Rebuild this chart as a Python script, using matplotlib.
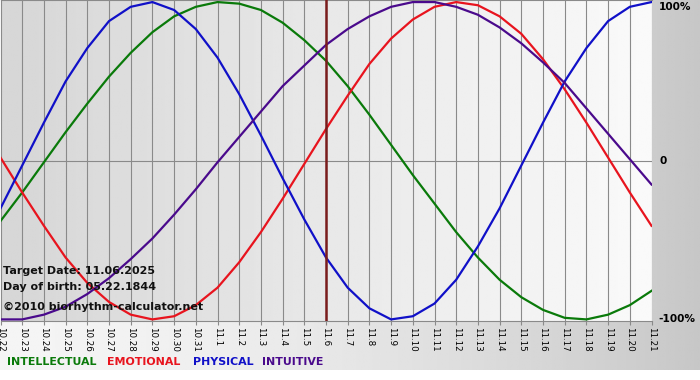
import matplotlib
matplotlib.use('Agg')
import matplotlib.pyplot as plt
import numpy as np

# days shown on the x axis (month.day)
day_labels = ['10.22', '10.23', '10.24', '10.25', '10.26', '10.27', '10.28',
              '10.29', '10.30', '10.31', '11.1', '11.2', '11.3', '11.4',
              '11.5', '11.6', '11.7', '11.8', '11.9', '11.10', '11.11',
              '11.12', '11.13', '11.14', '11.15', '11.16', '11.17', '11.18',
              '11.19', '11.20', '11.21']
target_label = '11.6'

# cycle values, one per day (-1 .. 1)
intellectual = [-0.38, -0.20, -0.01, 0.18, 0.36, 0.53, 0.68, 0.81, 0.91, 0.97,
                1.00, 0.99, 0.95, 0.87, 0.76, 0.63, 0.47, 0.29, 0.10, -0.09,
                -0.27, -0.45, -0.61, -0.75, -0.86, -0.94, -0.99, -1.00, -0.97,
                -0.91, -0.82]
emotional = [0.02, -0.20, -0.41, -0.61, -0.77, -0.89, -0.97, -1.00, -0.98,
             -0.91, -0.80, -0.64, -0.45, -0.24, -0.02, 0.20, 0.41, 0.61, 0.77,
             0.89, 0.97, 1.00, 0.98, 0.91, 0.80, 0.64, 0.45, 0.24, 0.02,
             -0.20, -0.41]
physical = [-0.30, -0.03, 0.24, 0.50, 0.71, 0.88, 0.97, 1.00, 0.95, 0.83,
            0.65, 0.42, 0.16, -0.11, -0.37, -0.61, -0.80, -0.93, -1.00, -0.98,
            -0.90, -0.75, -0.54, -0.30, -0.03, 0.24, 0.50, 0.71, 0.88, 0.97,
            1.00]
intuitive = [-1.00, -1.00, -0.97, -0.92, -0.84, -0.74, -0.62, -0.49, -0.34,
             -0.18, -0.01, 0.15, 0.31, 0.47, 0.60, 0.73, 0.83, 0.91, 0.97,
             1.00, 1.00, 0.97, 0.92, 0.84, 0.74, 0.62, 0.49, 0.33, 0.17, 0.01,
             -0.15]

series_names = ['INTELLECTUAL', 'EMOTIONAL', 'PHYSICAL', 'INTUITIVE']
series_colors = ['#0a7a0a', '#e8141e', '#1010c8', '#4a0a8c']

info_lines = ['Target Date: 11.06.2025', 'Day of birth: 05.22.1844',
              '\u00a92010 biorhythm-calculator.net']

W, H = 700, 380
fig = plt.figure(figsize=(W / 100, H / 100), dpi=100, facecolor='white')

# light-to-grey backdrop behind everything except the bottom white strip
bg = fig.add_axes([0, 10 / H, 1, 370 / H], zorder=0)
gx = np.linspace(0, 1, 300)
shade = 0.96 - 0.18 * gx ** 1.6
bg.imshow(np.tile(shade, (2, 1)), cmap='gray', vmin=0, vmax=1,
          aspect='auto', extent=[0, 1, 0, 1])
bg.set_axis_off()

ax = fig.add_axes([0.5 / W, 1 - 321 / H, 651 / W, 321 / H], zorder=1)
n = len(day_labels)
x = np.arange(n)
ax.set_xlim(0, n - 1)
ax.set_ylim(-1.01, 1.013)

# plot area gradient
px = np.linspace(0, 1, 300)
ax.imshow(np.tile(0.84 + 0.14 * px, (2, 1)), cmap='gray', vmin=0, vmax=1,
          aspect='auto', extent=[0, n - 1, -1.01, 1.013], zorder=0)

for xi in x:
    ax.axvline(xi, color='#8a8a8a', lw=0.8, zorder=1)
ax.axhline(0, color='#8a8a8a', lw=0.8, zorder=1)

for vals, color in zip([intellectual, emotional, physical, intuitive],
                       series_colors):
    ax.plot(x, vals, color=color, lw=1.6, zorder=3, solid_joinstyle='round')

ax.axvline(day_labels.index(target_label), color='#7a1c1c', lw=1.8, zorder=4)

for side in ['left', 'right']:
    ax.spines[side].set_visible(False)
for side in ['top', 'bottom']:
    ax.spines[side].set_color('#8a8a8a')
    ax.spines[side].set_linewidth(0.8)

ax.set_xticks(x)
ax.set_xticklabels(day_labels, rotation=-90, fontsize=6.3, va='top',
                   ha='center')
ax.tick_params(axis='x', length=3, width=0.8, color='#8a8a8a', pad=1)
ax.set_yticks([])

# percentage labels on the right
ax.text(1.012, 1.0, '100%', transform=ax.get_yaxis_transform(), ha='left',
        va='top', fontsize=7.6, fontweight='bold', clip_on=False)
ax.text(1.013, 0, '0', transform=ax.get_yaxis_transform(), ha='left',
        va='center', fontsize=7.6, fontweight='bold', clip_on=False)
ax.text(1.01, -1.0, '-100%', transform=ax.get_yaxis_transform(), ha='left',
        va='center', fontsize=7.6, fontweight='bold', clip_on=False)

# info text in lower-left corner
for line, ypx in zip(info_lines, [271, 287, 307]):
    fig.text(3 / W, 1 - ypx / H, line, ha='left', va='center', fontsize=8.0,
             fontweight='bold', color='#111111', zorder=5)

# coloured legend words under the axis
for name, color, xpx in zip(series_names, series_colors, [7, 107, 193, 262]):
    fig.text(xpx / W, 1 - 362 / H, name, ha='left', va='center',
             fontsize=7.9, fontweight='bold', color=color)

fig.savefig('out.png', dpi=100, facecolor=fig.get_facecolor())
